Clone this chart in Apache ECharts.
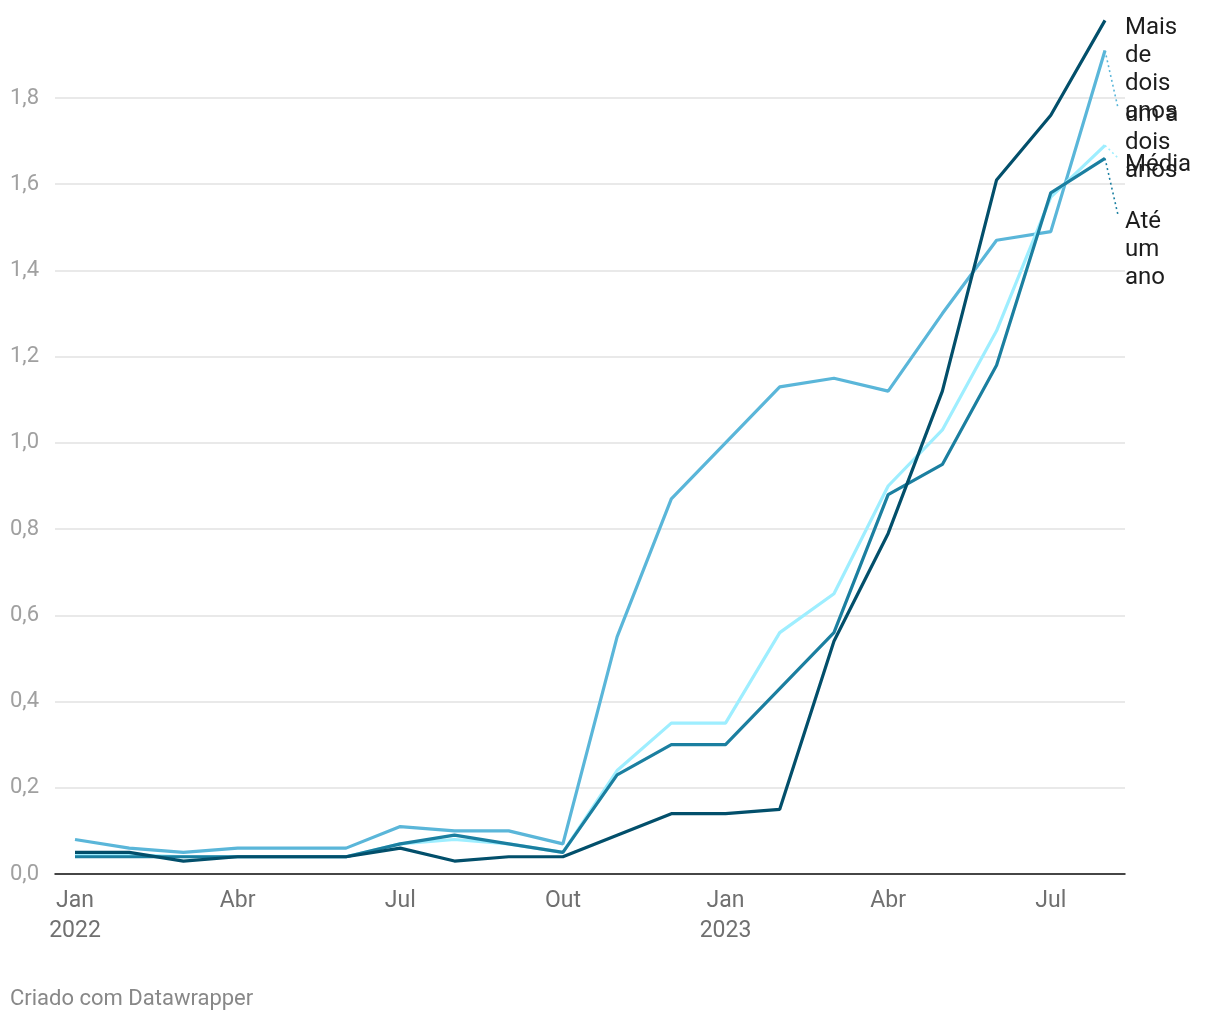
<!DOCTYPE html>
<html>
<head>
<meta charset="utf-8">
<script src="https://cdn.jsdelivr.net/npm/echarts@6/dist/echarts.min.js"></script>
<style>
html,body{margin:0;padding:0;background:#fff;}
#chart{width:1220px;height:1020px;}
</style>
</head>
<body>
<div id="chart"></div>
<script>
// ---- data ----
const months = ['Jan 2022','Fev 2022','Mar 2022','Abr 2022','Mai 2022','Jun 2022','Jul 2022','Ago 2022','Set 2022','Out 2022','Nov 2022','Dez 2022',
  'Jan 2023','Fev 2023','Mar 2023','Abr 2023','Mai 2023','Jun 2023','Jul 2023','Ago 2023'];
const tickIndex = [0, 3, 6, 9, 12, 15, 18];
const tickLabels = ['Jan\n2022', 'Abr', 'Jul', 'Out', 'Jan\n2023', 'Abr', 'Jul'];
const yTicks = [0, 0.2, 0.4, 0.6, 0.8, 1.0, 1.2, 1.4, 1.6, 1.8];

const seriesNames = ['um a dois anos', 'Média', 'Até um ano', 'Mais de dois anos'];
const umADois  = [0.08,0.06,0.05,0.06,0.06,0.06,0.11,0.10,0.10,0.07,0.55,0.87,1.00,1.13,1.15,1.12,1.30,1.47,1.49,1.91];
const media    = [0.045,0.045,0.04,0.04,0.04,0.04,0.07,0.08,0.07,0.05,0.24,0.35,0.35,0.56,0.65,0.90,1.03,1.26,1.57,1.69];
const ateUmAno = [0.04,0.04,0.04,0.04,0.04,0.04,0.07,0.09,0.07,0.05,0.23,0.30,0.30,0.43,0.56,0.88,0.95,1.18,1.58,1.66];
const maisDois = [0.05,0.05,0.03,0.04,0.04,0.04,0.06,0.03,0.04,0.04,0.09,0.14,0.14,0.15,0.54,0.79,1.12,1.61,1.76,1.98];
const seriesValues = [umADois, media, ateUmAno, maisDois];

// ---- styles ----
const colors = ['#5ab6d9', '#9eeeff', '#1b7fa0', '#024f6b'];
const labelCenterY = [114, 164, 221, 27]; // first-line centre of each end label (layout)
const LABEL_X = 1125;
const LABEL_FONT = '24px Roboto';
const LABEL_WRAP = 62;

const chart = echarts.init(document.getElementById('chart'));
const fmt = v => (Math.round(v * 10) / 10).toFixed(1).replace('.', ',');

const mctx = document.createElement('canvas').getContext('2d');
mctx.font = LABEL_FONT;
function wrap(text) {
  const words = text.split(' ');
  const lines = [];
  let cur = '';
  words.forEach(w => {
    const t = cur ? cur + ' ' + w : w;
    if (cur && mctx.measureText(t).width > LABEL_WRAP) { lines.push(cur); cur = w; }
    else cur = t;
  });
  if (cur) lines.push(cur);
  return lines.join('\n');
}

const option = {
  animation: false,
  grid: { left: 55, right: 95, top: 98, bottom: 146, containLabel: false },
  xAxis: {
    type: 'value',
    min: -0.369, max: 19.369,
    axisLine: { show: true, lineStyle: { color: '#111', width: 1.5 } },
    axisTick: { show: false },
    splitLine: { show: false },
    axisLabel: {
      customValues: tickIndex,
      formatter: v => tickLabels[tickIndex.indexOf(Math.round(v))] || '',
      color: '#707070', fontFamily: 'Roboto', fontSize: 23, lineHeight: 30, margin: 12
    }
  },
  yAxis: {
    type: 'value', min: 0, max: 1.8, interval: 0.2,
    axisLine: { show: false }, axisTick: { show: false },
    splitLine: { lineStyle: { color: '#e2e2e2', width: 1.5 } },
    axisLabel: {
      formatter: fmt, color: '#a0a0a0', fontFamily: 'Roboto', fontSize: 22,
      align: 'left', margin: 45
    }
  },
  series: seriesValues.map((vals, si) => ({
    name: seriesNames[si],
    type: 'line',
    clip: false,
    symbol: 'none',
    z: 2 + si,
    lineStyle: { color: colors[si], width: 3.2 },
    data: vals.map((v, i) => [i, v])
  }))
};
chart.setOption(option);

// end labels with dotted connectors
const graphics = [];
seriesValues.forEach((vals, si) => {
  const last = vals.length - 1;
  const p = chart.convertToPixel({ gridIndex: 0 }, [last, vals[last]]);
  const ly = labelCenterY[si];
  graphics.push({
    type: 'text', left: LABEL_X, top: ly - 13, z: 10,
    style: {
      text: wrap(seriesNames[si]),
      fill: '#1d1d1d', font: LABEL_FONT, lineHeight: 28
    }
  });
  if (Math.abs(p[1] - ly) > 10) {
    graphics.push({
      type: 'line', z: 9,
      shape: { x1: p[0], y1: p[1], x2: LABEL_X - 7, y2: ly - 6 },
      style: { stroke: colors[si], lineWidth: 1.6, lineDash: [2, 3] }
    });
  }
});
graphics.push({
  type: 'text', left: 10, top: 988,
  style: { text: 'Criado com Datawrapper', fill: '#888888', font: '22px Roboto' }
});
chart.setOption({ graphic: graphics });
</script>
</body>
</html>
